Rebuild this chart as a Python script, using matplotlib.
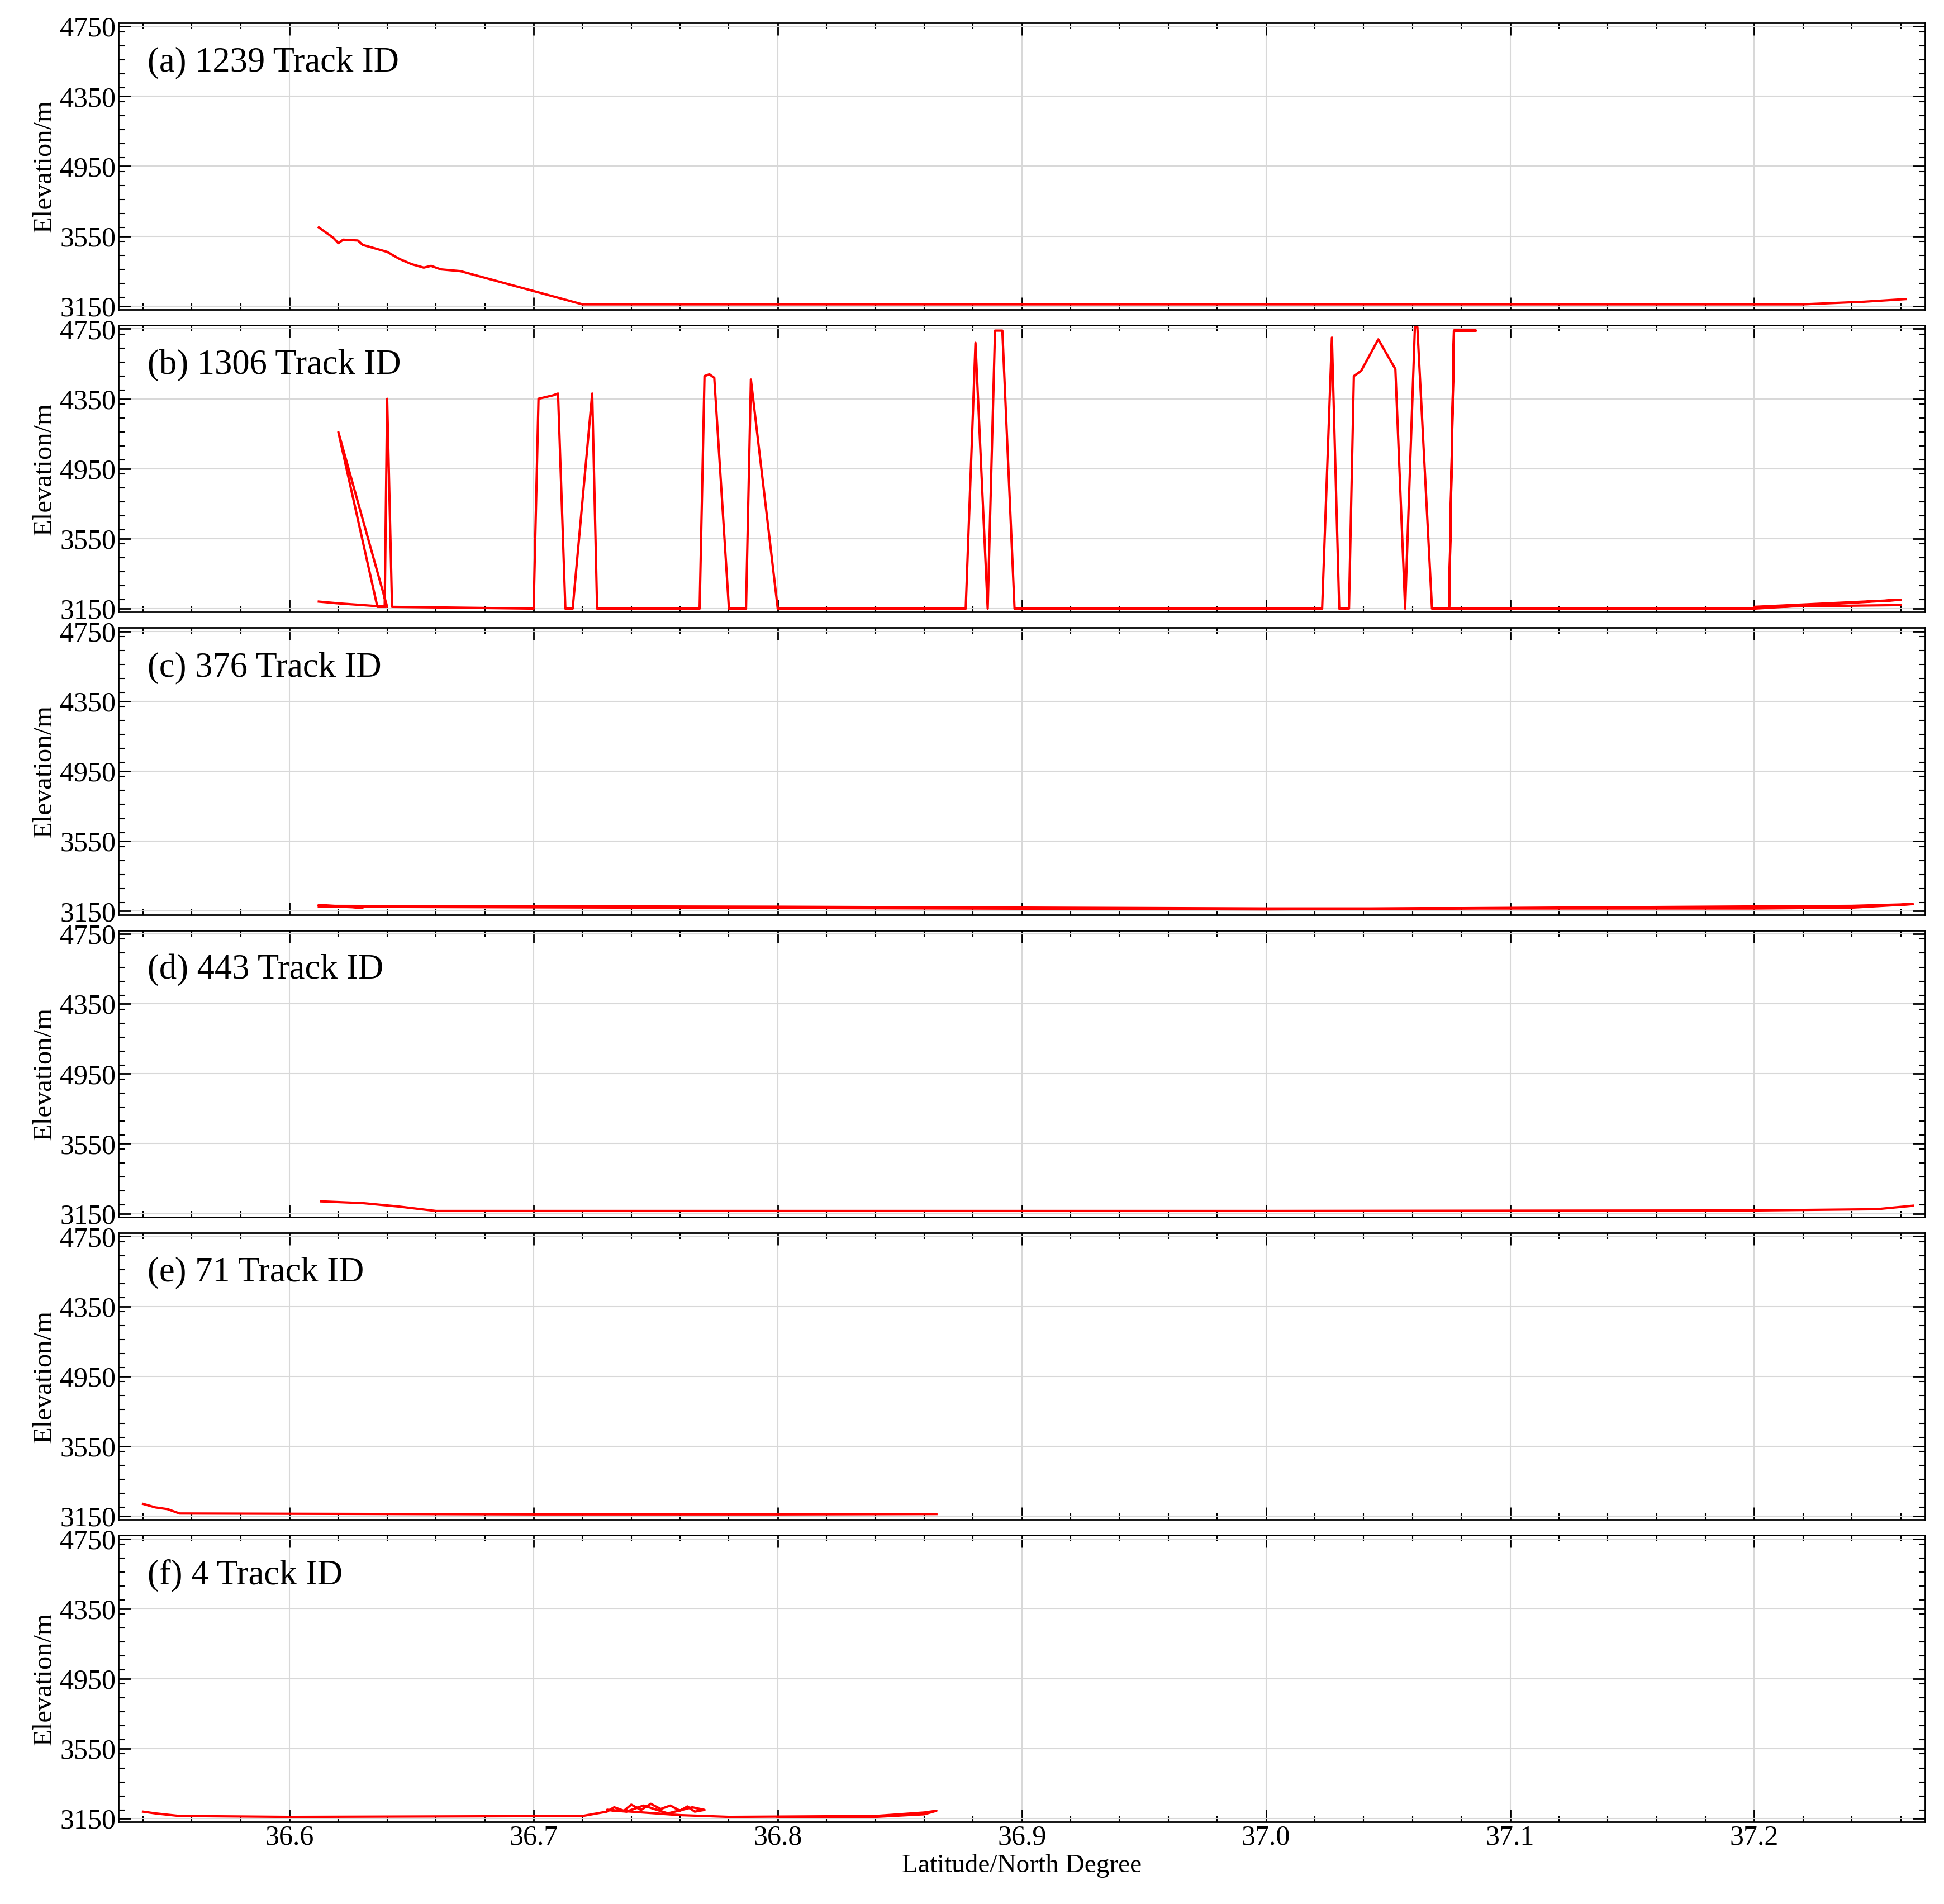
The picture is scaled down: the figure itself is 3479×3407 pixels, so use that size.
import numpy as np
import matplotlib.pyplot as plt
from matplotlib.ticker import MultipleLocator

plt.rcParams['font.family'] = ['Liberation Serif', 'DejaVu Serif']

titles = ['(a) 1239 Track ID', '(b) 1306 Track ID', '(c) 376 Track ID',
          '(d) 443 Track ID', '(e) 71 Track ID', '(f) 4 Track ID']
ytick_vals = [3150, 3550, 3950, 4350, 4750]
ytick_labels = ['3150', '3550', '4950', '4350', '4750']
xtick_vals = [36.6, 36.7, 36.8, 36.9, 37.0, 37.1, 37.2]

lat_a = [36.612, 36.618, 36.62, 36.622, 36.628, 36.63, 36.635, 36.64, 36.645, 36.65, 36.655, 36.658, 36.662, 36.67, 36.72, 37.0, 37.22, 37.245, 37.262]
ele_a = [3600, 3540, 3510, 3530, 3525, 3500, 3480, 3460, 3420, 3390, 3370, 3380, 3360, 3350, 3160, 3160, 3160, 3175, 3190]

lat_b = [36.612, 36.62, 36.64, 36.62, 36.636, 36.639, 36.64, 36.642, 36.70, 36.702, 36.708, 36.71, 36.713, 36.716, 36.724, 36.726,
         36.768, 36.77, 36.772, 36.774, 36.78, 36.787, 36.789, 36.80, 36.877, 36.881, 36.886, 36.889, 36.892, 36.897,
         37.023, 37.027, 37.03, 37.034, 37.036, 37.039, 37.046, 37.053, 37.057, 37.061, 37.062, 37.068, 37.075, 37.077, 37.086,
         37.077, 37.075, 37.10, 37.2, 37.26, 37.2, 37.26]
ele_b = [3190, 3180, 3160, 4160, 3160, 3160, 4350, 3160, 3150, 4350, 4370, 4380, 3150, 3150, 4380, 3150,
         3150, 4480, 4490, 4470, 3150, 3150, 4460, 3150, 3150, 4670, 3150, 4740, 4740, 3150,
         3150, 4700, 3150, 3150, 4480, 4510, 4690, 4520, 3150, 4760, 4760, 3150, 3150, 4740, 4740,
         4740, 3150, 3150, 3150, 3200, 3160, 3170]

lat_c = [36.612, 36.63, 36.612, 36.8, 37.0, 37.2, 37.24, 37.265, 37.24, 37.0, 36.8, 36.612]
ele_c = [3185, 3170, 3180, 3175, 3165, 3165, 3170, 3190, 3180, 3160, 3168, 3175]

lat_d = [36.613, 36.63, 36.645, 36.66, 37.0, 37.2, 37.25, 37.265]
ele_d = [3220, 3210, 3190, 3165, 3165, 3168, 3175, 3195]

lat_e = [36.54, 36.545, 36.55, 36.555, 36.7, 36.8, 36.865]
ele_e = [3220, 3200, 3190, 3165, 3160, 3160, 3162]

lat_f = [36.54, 36.545, 36.555, 36.6, 36.72, 36.73, 36.733, 36.737, 36.74, 36.744, 36.748, 36.752, 36.756, 36.76, 36.763, 36.766, 36.77,
         36.765, 36.755, 36.745, 36.738, 36.73, 36.76, 36.78, 36.84, 36.86, 36.865, 36.86, 36.84, 36.8]
ele_f = [3190, 3180, 3165, 3160, 3165, 3190, 3215, 3195, 3230, 3200, 3235, 3205, 3225, 3195, 3220, 3190, 3200,
         3215, 3180, 3225, 3190, 3200, 3170, 3160, 3165, 3185, 3195, 3175, 3160, 3160]

series = [(lat_a, ele_a), (lat_b, ele_b), (lat_c, ele_c), (lat_d, ele_d), (lat_e, ele_e), (lat_f, ele_f)]

fig, axes = plt.subplots(6, 1, figsize=(34.8, 34.07), dpi=100, sharex=True)
fig.subplots_adjust(left=0.061, right=0.99, top=0.988, bottom=0.043, hspace=0.055)

for ax, title, (x, y) in zip(axes, titles, series):
    ax.plot(x, y, color='red', lw=3)
    ax.set_xlim(36.53, 37.27)
    ax.set_ylim(3130, 4770)
    ax.set_yticks(ytick_vals)
    ax.set_yticklabels(ytick_labels)
    ax.set_xticks(xtick_vals)
    ax.xaxis.set_minor_locator(MultipleLocator(0.02))
    ax.yaxis.set_minor_locator(MultipleLocator(80))
    ax.grid(True, which='major', color='#d8d8d8', lw=1.5)
    ax.tick_params(which='both', direction='in', top=True, right=True, labelsize=36)
    ax.tick_params(which='major', length=16, width=2)
    ax.tick_params(which='minor', length=8, width=1.5)
    for s in ax.spines.values():
        s.set_linewidth(2)
    ax.set_ylabel('Elevation/m', fontsize=35)
    ax.text(0.016, 0.86, title, transform=ax.transAxes, fontsize=45, va='center')

axes[-1].set_xticklabels(['36.6', '36.7', '36.8', '36.9', '37.0', '37.1', '37.2'])
axes[-1].set_xlabel('Latitude/North Degree', fontsize=34)

fig.savefig('out.png')
